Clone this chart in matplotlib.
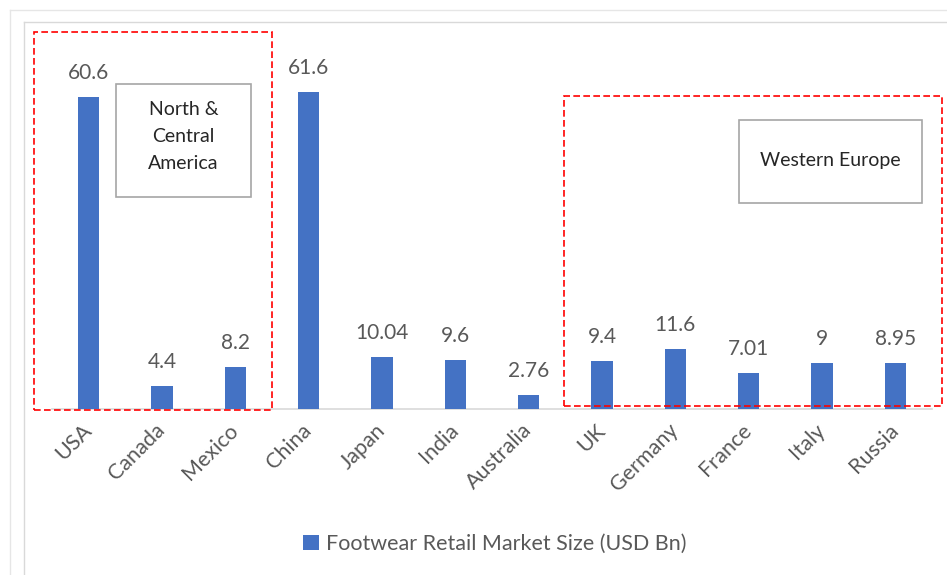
import matplotlib.pyplot as plt
from matplotlib.patches import Rectangle
from matplotlib.lines import Line2D

plt.rcParams['font.family'] = ['Lato', 'DejaVu Sans']

countries = ['USA', 'Canada', 'Mexico', 'China', 'Japan', 'India', 'Australia',
             'UK', 'Germany', 'France', 'Italy', 'Russia']
market_size = [60.6, 4.4, 8.2, 61.6, 10.04, 9.6, 2.76, 9.4, 11.6, 7.01, 9, 8.95]
value_labels = ['60.6', '4.4', '8.2', '61.6', '10.04', '9.6', '2.76',
                '9.4', '11.6', '7.01', '9', '8.95']
series_name = 'Footwear Retail Market Size (USD Bn)'

W, H = 947, 575
fig = plt.figure(figsize=(W / 100, H / 100), dpi=100)
ax = fig.add_axes([52 / W, 166 / H, 880 / W, 379 / H])

x = range(len(countries))
bars = ax.bar(x, market_size, width=0.29, color='#4472C4', label=series_name, zorder=3)
ax.set_xlim(-0.5, len(countries) - 0.5)
ax.set_ylim(0, 73.7)

# value labels
for xi, v, lab in zip(x, market_size, value_labels):
    ax.annotate(lab, (xi, v), xytext=(0, 10), textcoords='offset points',
                ha='center', va='bottom', fontsize=15, color='#595959')

# axes styling
for s in ['left', 'right', 'top']:
    ax.spines[s].set_visible(False)
ax.spines['bottom'].set_color('#D9D9D9')
ax.spines['bottom'].set_linewidth(1.2)
ax.set_yticks([])
ax.set_xticks(list(x))
ax.set_xticklabels(countries, rotation=45, ha='right', va='center',
                   rotation_mode='anchor', fontsize=15.5, color='#595959')
ax.tick_params(axis='x', length=0, pad=13)

# region highlight boxes (dashed red)
ax.add_patch(Rectangle((-0.746, -0.1), 3.246, 73.4, fill=False, edgecolor='#FF0000',
                       linestyle=(0, (4, 2)), linewidth=1.2, clip_on=False, zorder=4))
ax.add_patch(Rectangle((6.485, 0.6), 5.155, 60.3, fill=False, edgecolor='#FF0000',
                       linestyle=(0, (4, 2)), linewidth=1.2, clip_on=False, zorder=4))

# region text boxes
ax.add_patch(Rectangle((0.373, 41.2), 1.842, 22.0, facecolor='white', edgecolor='#A6A6A6',
                       linewidth=1.2, clip_on=False, zorder=4))
ax.text(1.294, 53.0, 'North &\nCentral\nAmerica', ha='center', va='center',
        fontsize=14, color='#262626', linespacing=1.7, zorder=5)
ax.add_patch(Rectangle((8.87, 40.1), 2.5, 16.1, facecolor='white', edgecolor='#A6A6A6',
                       linewidth=1.2, clip_on=False, zorder=4))
ax.text(10.12, 48.4, 'Western Europe', ha='center', va='center',
        fontsize=14, color='#262626', zorder=5)

# legend
fig.legend(handles=[bars], labels=[series_name], loc='center',
           bbox_to_anchor=(495 / W, 1 - 544 / H), frameon=False, fontsize=15.5,
           handlelength=0.7, handleheight=0.7, handletextpad=0.35,
           labelcolor='#595959')

# chart frame lines
for (px, py, c) in [(10, 10, '#E6E6E6'), (24, 22, '#D9D9D9')]:
    fig.add_artist(Line2D([px / W, px / W], [0, 1 - py / H], transform=fig.transFigure,
                          color=c, linewidth=1))
    fig.add_artist(Line2D([px / W, 1], [1 - py / H, 1 - py / H], transform=fig.transFigure,
                          color=c, linewidth=1))

fig.savefig('out.png', dpi=100)
